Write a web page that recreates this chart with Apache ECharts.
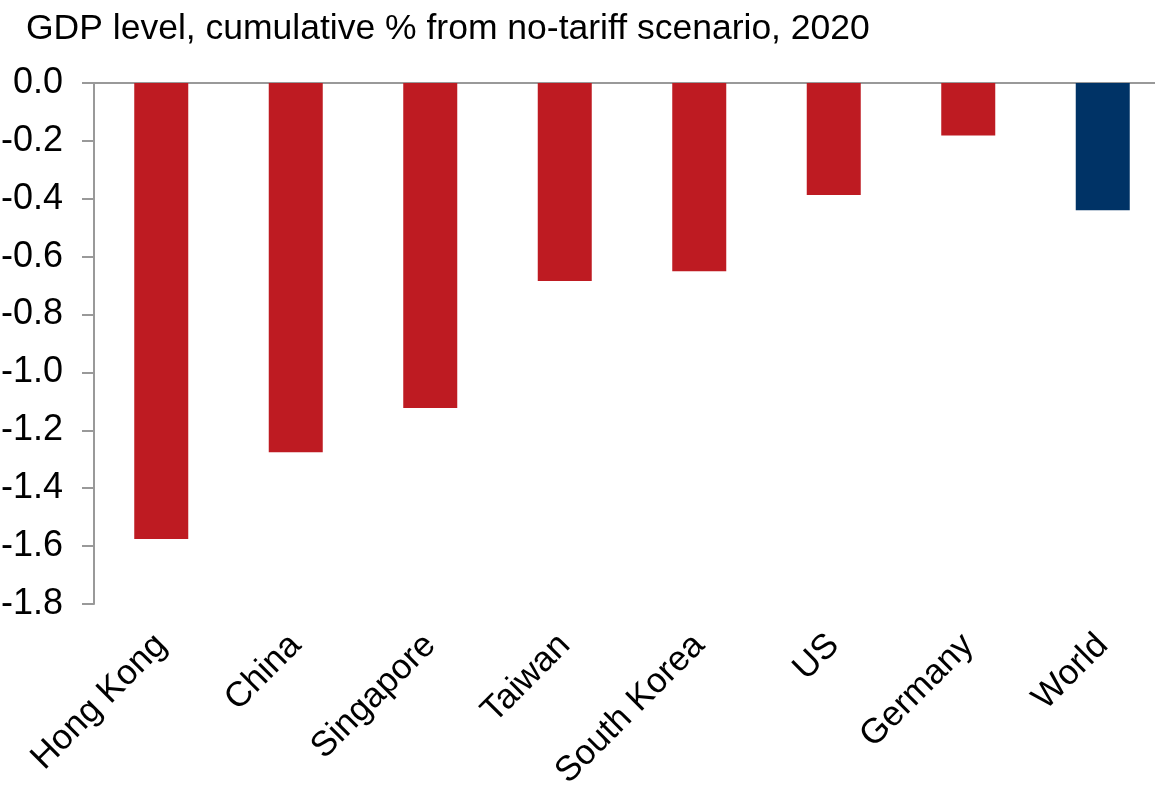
<!DOCTYPE html>
<html>
<head>
	<meta charset="utf-8">
	<script type="text/javascript" src="https://cdn.jsdelivr.net/npm/echarts@6/dist/echarts.min.js"></script>
</head>
<body style="margin:0;">
	<div id="main" style="width:1155px; height:787px;"></div>
	<script type="text/javascript">
		var countries = ['Hong Kong', 'China', 'Singapore', 'Taiwan', 'South Korea', 'US', 'Germany', 'World'];
		var gdpChange = [-1.575, -1.276, -1.123, -0.684, -0.65, -0.387, -0.181, -0.44];
		var barColors = ['#BE1B22', '#BE1B22', '#BE1B22', '#BE1B22', '#BE1B22', '#BE1B22', '#BE1B22', '#003366'];

		var chart = echarts.init(document.getElementById('main'));

		var bars = [];
		for (var i = 0; i < gdpChange.length; i++) {
			bars.push({ value: gdpChange[i], itemStyle: { color: barColors[i] } });
		}

		chart.setOption({
			animation: false,
			title: {
				text: 'GDP level, cumulative % from no-tariff scenario, 2020',
				left: 21,
				top: 6,
				textStyle: { fontFamily: 'Liberation Sans', fontSize: 35.5, fontWeight: 'normal', color: '#000' }
			},
			grid: { left: 94, top: 83, bottom: 183, right: -15, outerBoundsMode: 'none', containLabel: false },
			xAxis: [{
				type: 'category',
				data: countries,
				position: 'top',
				axisLine: { lineStyle: { color: '#999', width: 2 } },
				axisTick: { inside: true, length: 11, lineStyle: { color: '#999', width: 2 } },
				axisLabel: { show: false }
			}, {
				type: 'category',
				data: countries,
				position: 'bottom',
				axisLine: { show: false },
				axisTick: { show: false },
				axisLabel: {
					rotate: 45,
					margin: 36,
					fontFamily: 'Liberation Sans',
					fontSize: 35,
					color: '#000'
				}
			}],
			yAxis: {
				type: 'value',
				min: -1.8,
				max: 0,
				interval: 0.2,
				axisLine: { show: true, lineStyle: { color: '#999', width: 2 } },
				axisTick: { show: true, length: 12, lineStyle: { color: '#999', width: 2 } },
				splitLine: { show: false },
				axisLabel: {
					margin: 31,
					fontFamily: 'Liberation Sans',
					fontSize: 36,
					color: '#000',
					formatter: function (v) { return v.toFixed(1); }
				}
			},
			series: [{
				type: 'bar',
				data: bars,
				barWidth: 54
			}]
		});
	</script>
</body>
</html>
